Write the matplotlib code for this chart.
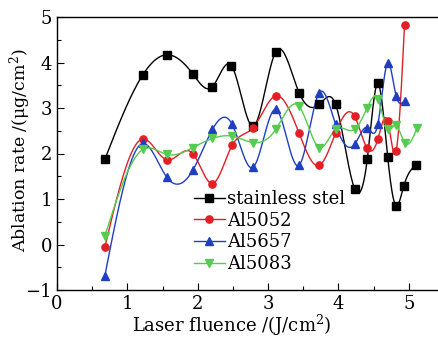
import numpy as np
import matplotlib
matplotlib.use("Agg")
import matplotlib.pyplot as plt
from matplotlib.ticker import MultipleLocator

plt.rcParams['font.family'] = ['DejaVu Serif']
plt.rcParams['mathtext.fontset'] = 'dejavuserif'

# ---- data ----
x_steel = [0.68, 1.22, 1.56, 1.93, 2.21, 2.48, 2.79, 3.11, 3.44, 3.73, 3.96,
           4.23, 4.41, 4.56, 4.70, 4.82, 4.93, 5.11]
y_steel = [1.87, 3.73, 4.17, 3.75, 3.47, 3.93, 2.60, 4.24, 3.34, 3.08, 3.08,
           1.23, 1.87, 3.54, 1.93, 0.85, 1.29, 1.75]

x_al = [0.68, 1.22, 1.56, 1.93, 2.21, 2.49, 2.79, 3.11, 3.44, 3.73, 3.96,
        4.23, 4.41, 4.56, 4.70, 4.82, 4.94]
y_5052 = [-0.06, 2.32, 1.86, 2.00, 1.34, 2.18, 2.57, 3.27, 2.45, 1.74, 2.45,
          2.82, 2.11, 2.31, 2.71, 2.05, 4.83]
y_5657 = [-0.69, 2.22, 1.48, 1.63, 2.53, 2.64, 1.70, 2.97, 1.74, 3.34, 2.64,
          2.20, 2.57, 2.64, 3.99, 3.27, 3.16]

x_5083 = [0.68, 1.22, 1.56, 1.93, 2.21, 2.49, 2.79, 3.11, 3.44, 3.73, 3.96,
          4.23, 4.41, 4.56, 4.70, 4.82, 4.94, 5.12]
y_5083 = [0.19, 2.09, 1.98, 2.13, 2.33, 2.38, 2.24, 2.53, 3.04, 2.13, 2.53,
          2.53, 3.01, 3.19, 2.53, 2.62, 2.24, 2.57]

labels = ["stainless stel", "Al5052", "Al5657", "Al5083"]
colors = ["black", "#e31e24", "#1f3fbf", "#55cc50"]
markers = ["s", "o", "^", "v"]


def natural_spline(x, y, n=600):
    x = np.asarray(x, float)
    y = np.asarray(y, float)
    m = len(x)
    h = np.diff(x)
    A = np.zeros((m, m))
    r = np.zeros(m)
    A[0, 0] = 1
    A[-1, -1] = 1
    for i in range(1, m - 1):
        A[i, i - 1] = h[i - 1]
        A[i, i] = 2 * (h[i - 1] + h[i])
        A[i, i + 1] = h[i]
        r[i] = 3 * ((y[i + 1] - y[i]) / h[i] - (y[i] - y[i - 1]) / h[i - 1])
    c = np.linalg.solve(A, r)
    b = np.zeros(m - 1)
    d = np.zeros(m - 1)
    for i in range(m - 1):
        b[i] = (y[i + 1] - y[i]) / h[i] - h[i] * (2 * c[i] + c[i + 1]) / 3
        d[i] = (c[i + 1] - c[i]) / (3 * h[i])
    xs = np.linspace(x[0], x[-1], n)
    idx = np.clip(np.searchsorted(x, xs) - 1, 0, m - 2)
    dx = xs - x[idx]
    ys = y[idx] + b[idx] * dx + c[idx] * dx ** 2 + d[idx] * dx ** 3
    return xs, ys


fig = plt.figure(figsize=(4.39, 3.38), dpi=100)
ax = fig.add_axes([57 / 439, 1 - 290 / 338, 1 - 57 / 439, (290 - 17) / 338])

series = [(x_steel, y_steel), (x_al, y_5052), (x_al, y_5657), (x_5083, y_5083)]
handles = []
for (xx, yy), lab, col, mk in zip(series, labels, colors, markers):
    xs, ys = natural_spline(xx, yy)
    ax.plot(xs, ys, color=col, lw=1.0, zorder=2)
    ax.plot(xx, yy, ls='none', marker=mk, color=col, ms=5.2, zorder=3)
    h, = ax.plot([], [], color=col, lw=1.0, marker=mk, ms=5.2, label=lab)
    handles.append(h)

ax.set_xlim(0, 5.43)
ax.set_ylim(-1, 5)
ax.xaxis.set_major_locator(MultipleLocator(1))
ax.xaxis.set_minor_locator(MultipleLocator(0.5))
ax.yaxis.set_major_locator(MultipleLocator(1))
ax.yaxis.set_minor_locator(MultipleLocator(0.5))
ax.tick_params(which='both', direction='in', top=False, right=False,
               labelsize=13)
ax.tick_params(which='major', length=5, width=0.8)
ax.tick_params(which='minor', length=3, width=0.8)
ax.spines['right'].set_visible(False)
for s in ['left', 'bottom', 'top']:
    ax.spines[s].set_linewidth(1.0)

ax.set_xlabel("Laser fluence /(J/cm$^2$)", fontsize=13, labelpad=1)
ax.set_ylabel("Ablation rate /(μg/cm$^2$)", fontsize=12.5)
ax.xaxis.set_label_coords((232 - 57) / (439 - 57), -0.085)
ax.yaxis.set_label_coords((33 - 57) / (439 - 57), (290 - 150) / 273)

leg = ax.legend(handles=handles, loc='upper left',
                bbox_to_anchor=(194 / 439, 1 - 190 / 338),
                bbox_transform=fig.transFigure, frameon=False,
                fontsize=13, handlelength=1.7, handletextpad=0.15,
                labelspacing=0.2, borderpad=0, borderaxespad=0)

fig.savefig("out.png", dpi=100)
